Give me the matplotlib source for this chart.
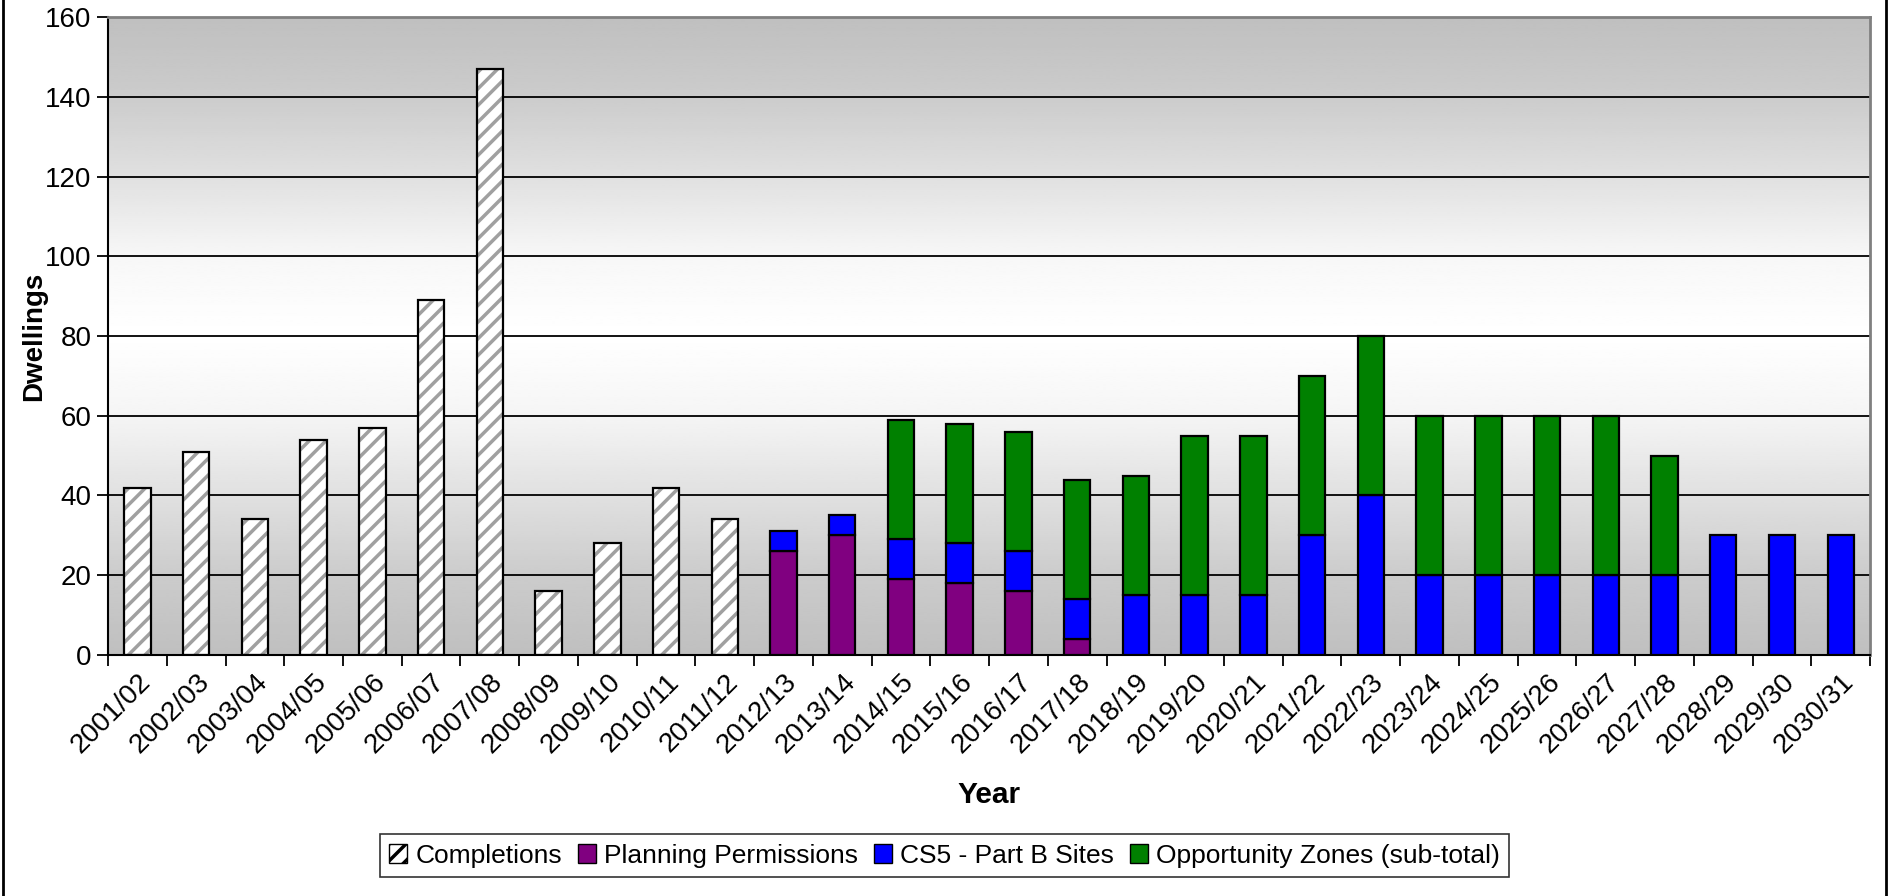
import numpy as np
import matplotlib
matplotlib.use("Agg")
import matplotlib.pyplot as plt
from matplotlib.patches import Patch
from matplotlib.lines import Line2D

plt.rcParams['font.family'] = ['Liberation Sans', 'DejaVu Sans']

years = ["2001/02", "2002/03", "2003/04", "2004/05", "2005/06", "2006/07", "2007/08",
         "2008/09", "2009/10", "2010/11", "2011/12", "2012/13", "2013/14", "2014/15",
         "2015/16", "2016/17", "2017/18", "2018/19", "2019/20", "2020/21", "2021/22",
         "2022/23", "2023/24", "2024/25", "2025/26", "2026/27", "2027/28", "2028/29",
         "2029/30", "2030/31"]

completions = [42, 51, 34, 54, 57, 89, 147, 16, 28, 42, 34] + [0] * 19
planning = [0] * 11 + [26, 30, 19, 18, 16, 4] + [0] * 13
cs5 = [0] * 11 + [5, 5, 10, 10, 10, 10, 15, 15, 15, 30, 40, 20, 20, 20, 20, 20, 30, 30, 30]
opp_zones = [0] * 13 + [30, 30, 30, 30, 30, 40, 40, 40, 40, 40, 40, 40, 40, 30, 0, 0, 0]

labels = ["Completions", "Planning Permissions", "CS5 - Part B Sites",
          "Opportunity Zones (sub-total)"]
colors = ["white", "#800080", "#0000FF", "#008000"]

plt.rcParams['hatch.linewidth'] = 2.5
plt.rcParams['hatch.color'] = '#a0a0a0'

fig = plt.figure(figsize=(18.89, 8.96), dpi=100)
ax = fig.add_axes([0.0572, 0.269, 0.9328, 0.712])

x = np.arange(len(years))
w = 0.45

# background gradient
grad = np.array([0.75, 0.80, 0.88, 0.96, 1.0, 0.97, 0.88, 0.80, 0.75])
yy = np.linspace(0, 1, 300)
vals = np.interp(yy, np.linspace(0, 1, len(grad)), grad)
img = np.repeat(vals[:, None], 2, axis=1)
ax.imshow(img, cmap='gray', vmin=0, vmax=1, origin='lower', aspect='auto',
          extent=[-0.5, len(years) - 0.5, 0, 160], zorder=0, interpolation='bilinear')

for yv in range(20, 160, 20):
    ax.axhline(yv, color='black', lw=1.3, zorder=1)

comp = np.array(completions, dtype=float)
mask = comp > 0
ax.bar(x[mask], comp[mask], w, color='white', hatch='//', edgecolor='#a0a0a0',
       linewidth=0, zorder=2)
ax.bar(x[mask], comp[mask], w, fill=False, edgecolor='black', linewidth=1.6, zorder=3)

bottom = np.zeros(len(years))
for vals_s, col in zip([planning, cs5, opp_zones], colors[1:]):
    v = np.array(vals_s, dtype=float)
    m = v > 0
    ax.bar(x[m], v[m], w, bottom=bottom[m], color=col, edgecolor='black',
           linewidth=1.6, zorder=3)
    bottom += v

ax.set_xlim(-0.5, len(years) - 0.5)
ax.set_ylim(0, 160)
ax.set_yticks(range(0, 161, 20))
ax.set_xticks(np.arange(-0.5, len(years), 1), minor=False)
ax.set_xticklabels([])
ax.set_xticks(x, minor=True)
ax.set_xticklabels(years, minor=True, rotation=45, ha='right', rotation_mode='anchor',
                   fontsize=20)
ax.tick_params(axis='x', which='minor', length=0, pad=10)
ax.tick_params(axis='x', which='major', length=8, width=1.3, direction='out')
ax.tick_params(axis='y', length=8, width=1.3, labelsize=20, pad=4)

for s in ['top', 'right']:
    ax.spines[s].set_color('#808080')
    ax.spines[s].set_linewidth(2)
for s in ['left', 'bottom']:
    ax.spines[s].set_color('black')
    ax.spines[s].set_linewidth(1.5)

ax.set_ylabel("Dwellings", fontsize=20, fontweight='bold')
ax.yaxis.set_label_coords(-0.0345, 0.5)
ax_center = 0.0572 + 0.9328 / 2
fig.text(ax_center, 0.113, "Year", fontsize=21.5, fontweight='bold', ha='center', va='center')

handles = [Patch(facecolor='white', hatch='//', edgecolor='black', label=labels[0])]
for lab, col in zip(labels[1:], colors[1:]):
    handles.append(Patch(facecolor=col, edgecolor='black', label=lab))
leg = fig.legend(handles=handles, loc='center', bbox_to_anchor=(0.5, 0.045), ncol=4,
                 fontsize=19, frameon=True, fancybox=False, edgecolor='black',
                 handlelength=0.7, handleheight=0.7, handletextpad=0.3,
                 columnspacing=0.6, borderpad=0.35)
leg.get_frame().set_linewidth(1.2)

fig.add_artist(Line2D([0.0015, 0.0015], [0, 1], transform=fig.transFigure, color='black', lw=2))
fig.add_artist(Line2D([0.9985, 0.9985], [0, 1], transform=fig.transFigure, color='black', lw=2))

fig.savefig("out.png", dpi=100)
